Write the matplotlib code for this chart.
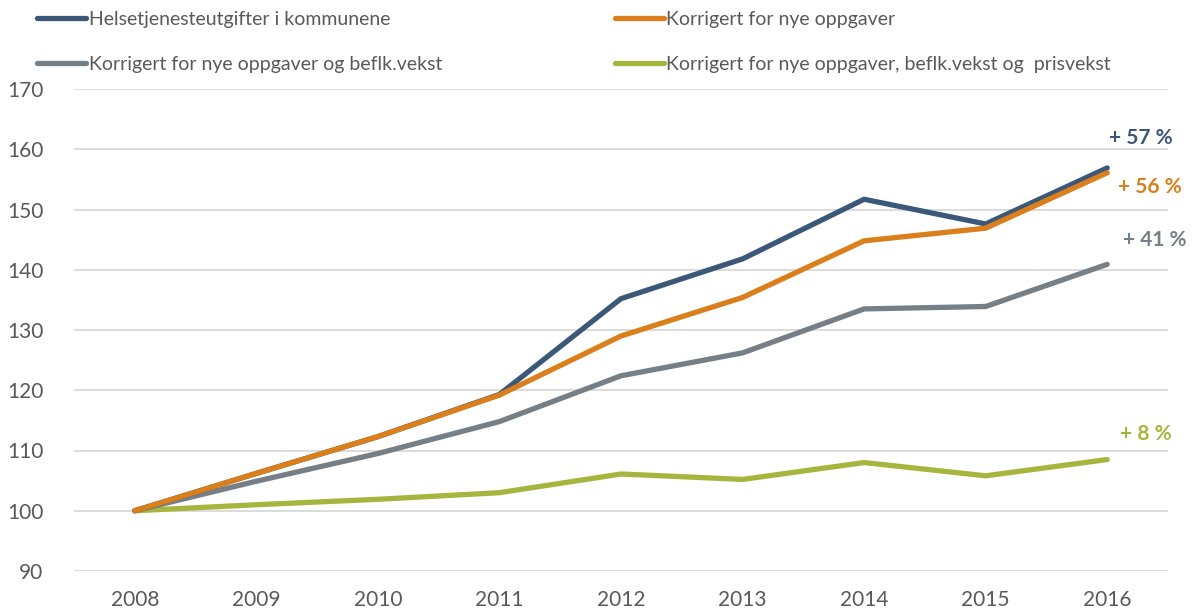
import matplotlib
matplotlib.use("Agg")
import matplotlib.pyplot as plt

plt.rcParams['font.family'] = ['Lato', 'DejaVu Sans']

years = ['2008', '2009', '2010', '2011', '2012', '2013', '2014', '2015', '2016']
helse = [100, 106.2, 112.3, 119.3, 135.2, 141.8, 151.7, 147.6, 156.9]
nye_oppg = [100, 106.2, 112.3, 119.2, 129.0, 135.4, 144.8, 146.9, 156.1]
befolk = [100, 104.9, 109.5, 114.8, 122.4, 126.2, 133.5, 133.9, 140.9]
pris = [100, 101.0, 101.9, 103.0, 106.1, 105.2, 108.0, 105.8, 108.5]

labels = ['Helsetjenesteutgifter i kommunene',
          'Korrigert for nye oppgaver og beflk.vekst',
          'Korrigert for nye oppgaver',
          'Korrigert for nye oppgaver, beflk.vekst og  prisvekst']
end_labels = ['+ 57 %', '+ 56 %', '+ 41 %', '+ 8 %']

c_blue = '#3C5878'
c_orange = '#DB7F1C'
c_gray = '#767E86'
c_green = '#A6B53E'
txt = '#595959'

fig = plt.figure(figsize=(11.93, 6.12), dpi=100)
ax = fig.add_axes([74/1193, 1 - 571/612, (1168-74)/1193, (571-89)/612])

x = list(range(len(years)))
lw = 3.8
l1, = ax.plot(x, helse, color=c_blue, lw=lw, solid_capstyle='round', zorder=4)
l2, = ax.plot(x, nye_oppg, color=c_orange, lw=lw, solid_capstyle='round', zorder=5)
l3, = ax.plot(x, befolk, color=c_gray, lw=lw, solid_capstyle='round', zorder=3)
l4, = ax.plot(x, pris, color=c_green, lw=lw, solid_capstyle='round', zorder=2)

ax.set_xlim(-0.5, 8.5)
ax.set_ylim(90, 170)
ax.set_yticks(range(90, 171, 10))
ax.set_xticks(x)
ax.set_xticklabels(years)
ax.grid(axis='y', color='#D9D9D9', lw=1.3)
ax.set_axisbelow(True)
for s in ax.spines.values():
    s.set_visible(False)
ax.tick_params(axis='both', length=0, labelsize=15, labelcolor=txt)
ax.tick_params(axis='x', pad=14)
ax.tick_params(axis='y', pad=22)

ax.text(8.28, 161.9, end_labels[0], color=c_blue, fontsize=15, fontweight='bold', ha='center', va='center')
ax.text(8.35, 153.8, end_labels[1], color=c_orange, fontsize=15, fontweight='bold', ha='center', va='center')
ax.text(8.39, 145.0, end_labels[2], color=c_gray, fontsize=15, fontweight='bold', ha='center', va='center')
ax.text(8.32, 112.8, end_labels[3], color=c_green, fontsize=15, fontweight='bold', ha='center', va='center')

handles = [l1, l3, l2, l4]
fig.legend(handles, labels, ncol=2, loc='upper left', bbox_to_anchor=(37/1193, 1 - 11/612),
           frameon=False, fontsize=14, labelcolor=txt, handlelength=2.5, handletextpad=0.15,
           columnspacing=8.9, labelspacing=1.42, borderpad=0, borderaxespad=0)

fig.savefig('out.png', dpi=100)
